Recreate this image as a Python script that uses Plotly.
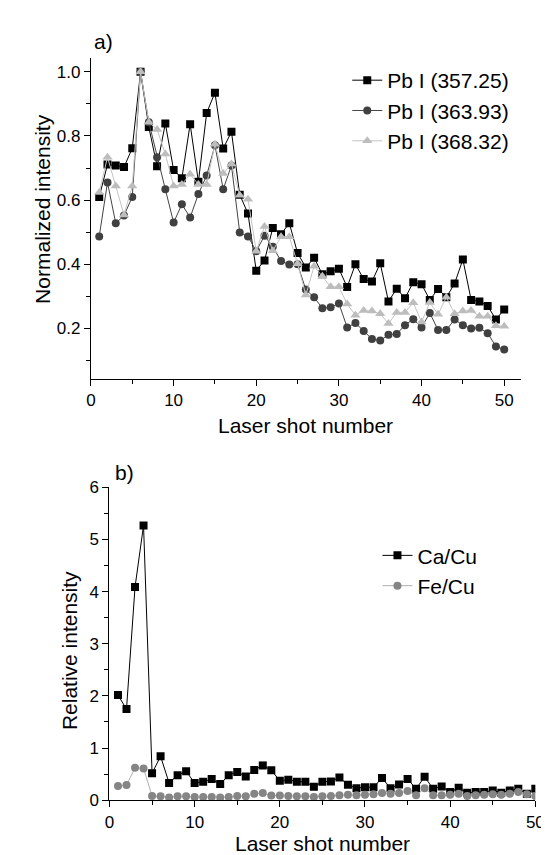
import plotly.graph_objects as go

# ---------------------------------------------------------------- data
SHOTS = list(range(1, 51))

PB_357 = [0.61, 0.711, 0.708, 0.703, 0.762, 1.0, 0.828, 0.706, 0.839, 0.694,
          0.668, 0.837, 0.657, 0.872, 0.935, 0.761, 0.813, 0.617, 0.558, 0.38,
          0.412, 0.513, 0.494, 0.528, 0.435, 0.39, 0.42, 0.369, 0.378, 0.386,
          0.329, 0.40, 0.354, 0.346, 0.403, 0.284, 0.324, 0.294, 0.344, 0.338,
          0.289, 0.323, 0.297, 0.34, 0.415, 0.289, 0.284, 0.27, 0.228, 0.259]

PB_363 = [0.487, 0.655, 0.528, 0.552, 0.61, 1.0, 0.843, 0.734, 0.634, 0.53,
          0.587, 0.546, 0.619, 0.677, 0.771, 0.634, 0.708, 0.499, 0.487, 0.441,
          0.489, 0.455, 0.41, 0.399, 0.40, 0.321, 0.297, 0.263, 0.266, 0.278,
          0.203, 0.217, 0.192, 0.167, 0.162, 0.18, 0.183, 0.21, 0.229, 0.203,
          0.248, 0.195, 0.195, 0.228, 0.21, 0.20, 0.202, 0.185, 0.144, 0.134]

PB_368 = [0.624, 0.734, 0.644, 0.554, 0.644, 1.0, 0.843, 0.82, 0.744, 0.644,
          0.649, 0.681, 0.649, 0.649, 0.774, 0.683, 0.713, 0.615, 0.603, 0.441,
          0.518, 0.442, 0.486, 0.486, 0.402, 0.304, 0.394, 0.363, 0.33, 0.33,
          0.276, 0.241, 0.256, 0.254, 0.246, 0.215, 0.25, 0.25, 0.28, 0.22,
          0.281, 0.244, 0.297, 0.246, 0.254, 0.256, 0.238, 0.238, 0.208, 0.207]

CA_CU = [2.015, 1.747, 4.086, 5.27, 0.518, 0.842, 0.33, 0.48, 0.555, 0.33,
         0.356, 0.405, 0.31, 0.48, 0.543, 0.455, 0.58, 0.667, 0.574, 0.374,
         0.393, 0.356, 0.356, 0.256, 0.356, 0.36, 0.437, 0.294, 0.231, 0.25,
         0.25, 0.425, 0.231, 0.30, 0.406, 0.219, 0.449, 0.219, 0.262, 0.156,
         0.237, 0.144, 0.156, 0.156, 0.187, 0.144, 0.187, 0.219, 0.125, 0.219]

FE_CU = [0.27, 0.29, 0.62, 0.61, 0.08, 0.075, 0.05, 0.075, 0.075, 0.06,
         0.06, 0.06, 0.05, 0.06, 0.08, 0.075, 0.125, 0.137, 0.09, 0.09,
         0.08, 0.075, 0.075, 0.063, 0.075, 0.081, 0.094, 0.106, 0.094, 0.106,
         0.112, 0.137, 0.125, 0.137, 0.175, 0.094, 0.231, 0.094, 0.094, 0.106,
         0.125, 0.081, 0.094, 0.106, 0.112, 0.106, 0.125, 0.156, 0.112, 0.081]

W, H = 549, 855
FONT = "Liberation Sans, Arial, sans-serif"


def px_x(p):
    return p / W


def px_y(p):
    return 1 - p / H


fig = go.Figure()

# ---------------------------------------------------------------- panel a
fig.add_trace(go.Scatter(x=SHOTS, y=PB_357, name="Pb I (357.25)", mode="lines+markers",
                         line=dict(color="#000000", width=1),
                         marker=dict(symbol="square", size=8, color="#000000"),
                         xaxis="x", yaxis="y", legend="legend"))
fig.add_trace(go.Scatter(x=SHOTS, y=PB_363, name="Pb I (363.93)", mode="lines+markers",
                         line=dict(color="#444444", width=1),
                         marker=dict(symbol="circle", size=8, color="#404040"),
                         xaxis="x", yaxis="y", legend="legend"))
fig.add_trace(go.Scatter(x=SHOTS, y=PB_368, name="Pb I (368.32)", mode="lines+markers",
                         line=dict(color="#c4c4c4", width=1),
                         marker=dict(symbol="triangle-up", size=9, color="#bdbdbd"),
                         xaxis="x", yaxis="y", legend="legend"))

# ---------------------------------------------------------------- panel b
fig.add_trace(go.Scatter(x=SHOTS, y=CA_CU, name="Ca/Cu", mode="lines+markers",
                         line=dict(color="#000000", width=1),
                         marker=dict(symbol="square", size=8, color="#000000"),
                         xaxis="x2", yaxis="y2", legend="legend2"))
fig.add_trace(go.Scatter(x=SHOTS, y=FE_CU, name="Fe/Cu", mode="lines+markers",
                         line=dict(color="#b0b0b0", width=1),
                         marker=dict(symbol="circle", size=8, color="#858585"),
                         xaxis="x2", yaxis="y2", legend="legend2"))

axis_style = dict(showline=True, linecolor="black", linewidth=1.3, showgrid=False,
                  zeroline=False, ticks="outside", ticklen=6, tickwidth=1.2,
                  tickcolor="black", tickfont=dict(size=17, color="black", family=FONT))

fig.update_layout(
    width=W, height=H,
    margin=dict(l=0, r=0, t=0, b=0),
    paper_bgcolor="white", plot_bgcolor="white",
    font=dict(family=FONT, color="black"),
    xaxis=dict(axis_style, domain=[px_x(80), px_x(521)], range=[0, 52], dtick=10,
               minor=dict(dtick=5, ticks="outside", ticklen=4, tickcolor="black"),
               anchor="y"),
    yaxis=dict(axis_style, domain=[px_y(370), px_y(42)], range=[0.043, 1.043],
               tick0=0, dtick=0.2, tickformat=".1f",
               minor=dict(dtick=0.1, ticks="outside", ticklen=4, tickcolor="black"),
               anchor="x"),
    xaxis2=dict(axis_style, domain=[px_x(99), px_x(536)], range=[0, 50], dtick=10,
                minor=dict(dtick=5, ticks="outside", ticklen=4, tickcolor="black"),
                anchor="y2"),
    yaxis2=dict(axis_style, domain=[px_y(801), px_y(481)], range=[0, 6], dtick=1,
                minor=dict(dtick=0.5, ticks="outside", ticklen=4, tickcolor="black"),
                anchor="x2"),
    legend=dict(x=px_x(343), y=px_y(44), xanchor="left", yanchor="top",
                bgcolor="rgba(0,0,0,0)", font=dict(size=21, family=FONT), tracegroupgap=0),
    legend2=dict(x=px_x(374), y=px_y(530), xanchor="left", yanchor="top",
                 bgcolor="rgba(0,0,0,0)", font=dict(size=21, family=FONT), tracegroupgap=0),
    showlegend=True,
)

labels = [
    ("a)", px_x(93), px_y(25), 0),
    ("b)", px_x(114), px_y(466), 0),
    ("Laser shot number", (px_x(80) + px_x(521)) / 2, px_y(418), 0),
    ("Laser shot number", (px_x(99) + px_x(536)) / 2, px_y(845), 0),
    ("Normalized intensity", px_x(30), px_y(196), -90),
    ("Relative intensity", px_x(58), px_y(648), -90),
]
for text, x, y, angle in labels:
    fig.add_annotation(text=text, x=x, y=y, xref="paper", yref="paper",
                       xanchor="center", yanchor="middle", showarrow=False,
                       textangle=angle, borderpad=0,
                       font=dict(size=21, family=FONT, color="black"))

fig.write_html("out.html")
